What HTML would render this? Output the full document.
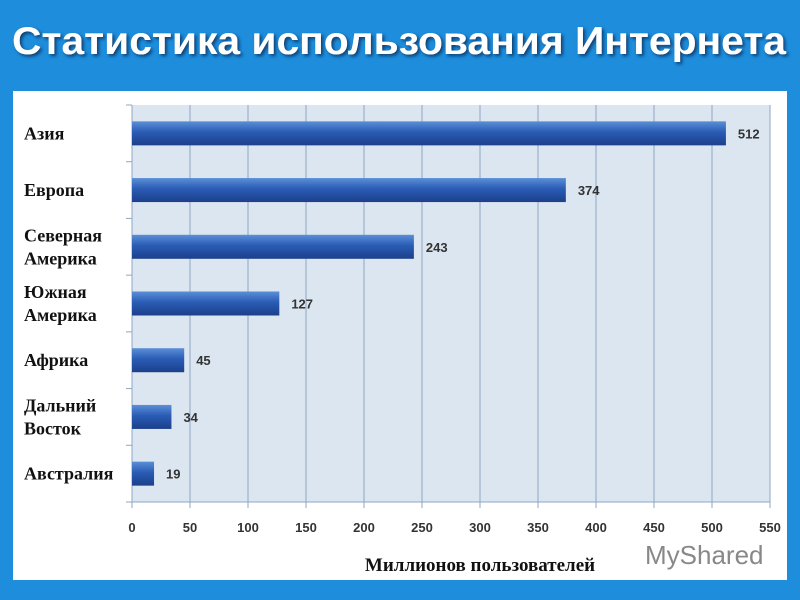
<!DOCTYPE html>
<html><head><meta charset="utf-8"><style>
body{margin:0;width:800px;height:600px;background:#1d8ddc;position:relative;overflow:hidden;font-family:"Liberation Sans",sans-serif}
#panel{position:absolute;left:13px;top:91px;width:774px;height:489px;background:#fff}
</style></head><body>
<div id="panel"></div>
<svg id="chart" width="800" height="600" style="position:absolute;left:0;top:0">
<defs><linearGradient id="g" x1="0" y1="0" x2="0" y2="1">
<stop offset="0" stop-color="#5b8fd6"/><stop offset="0.45" stop-color="#2a5cb5"/><stop offset="1" stop-color="#1c3f8a"/></linearGradient>
<filter id="sh"><feDropShadow dx="2" dy="2" stdDeviation="1.5" flood-color="#0a3c70"/></filter></defs>
<text x="12" y="54" textLength="774" lengthAdjust="spacingAndGlyphs" font-size="39" font-weight="bold" fill="#fff" filter="url(#sh)">Статистика использования Интернета</text>
</svg>
<script>
const categories=[["Азия"],["Европа"],["Северная","Америка"],["Южная","Америка"],["Африка"],["Дальний","Восток"],["Австралия"]];
const values=[512,374,243,127,45,34,19];
const ticks=[0,50,100,150,200,250,300,350,400,450,500,550];
const svg=document.getElementById('chart');const NS='http://www.w3.org/2000/svg';
const x0=132,x1=770,yTop=105,yBot=502;
const xs=v=>x0+(v-0)/550*(x1-x0);
const band=(yBot-yTop)/categories.length;
function mk(t,a,p){const e=document.createElementNS(NS,t);for(const k in a)e.setAttribute(k,a[k]);(p||svg).appendChild(e);return e;}
let bg=mk('rect',{x:x0,y:yTop,width:x1-x0,height:yBot-yTop,fill:'#dce6f1'});


ticks.forEach(t=>{
 let l=mk('line',{x1:xs(t),x2:xs(t),y1:yTop,y2:yBot+6,stroke:'#8fa6c4','stroke-width':1});
 
 
 let tx=mk('text',{x:xs(t),y:532,'text-anchor':'middle','font-size':13,'font-weight':'bold',fill:'#333'});
 tx.textContent=t;
 
 
});
mk('line',{x1:x0,x2:x1,y1:yBot,y2:yBot,stroke:'#8fa6c4'});
for(let i=0;i<=categories.length;i++)mk('line',{x1:x0-6,x2:x0,y1:yTop+i*band,y2:yTop+i*band,stroke:'#8fa6c4'});
categories.forEach((c,i)=>{
 const cy=yTop+band*(i+0.5);
 let r=mk('rect',{x:x0,y:cy-12,width:xs(values[i])-x0,height:24,fill:'url(#g)'});
 
 
 let v=mk('text',{x:xs(values[i])+12,y:cy+5,'font-size':13,'font-weight':'bold',fill:'#333'});
 v.textContent=values[i];
 
 
 const n=c.length;
 c.forEach((s,j)=>{
  let t=mk('text',{x:24,y:cy+6+(j-(n-1)/2)*23,'font-size':18,'font-family':'Liberation Serif, serif','font-weight':'bold',fill:'#111'});
  t.textContent=s;
  
  
 });
});
let at=mk('text',{x:480,y:571,'text-anchor':'middle','font-size':19,'font-family':'Liberation Serif, serif','font-weight':'bold',fill:'#111'});
at.textContent='Миллионов пользователей';


let wm=mk('text',{x:645,y:564,'font-size':26,fill:'#888'});
wm.textContent='MyShared';


</script>
</body></html>
